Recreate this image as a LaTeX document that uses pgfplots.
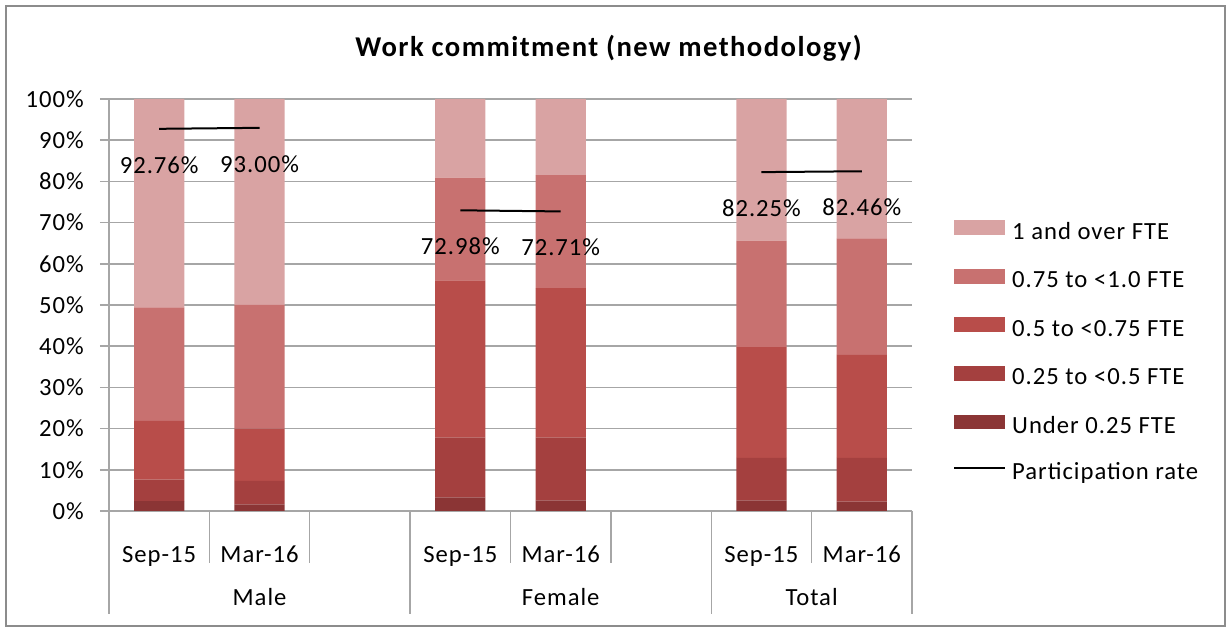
\documentclass[border=0pt]{standalone}
\usepackage{pgfplots}
\usepackage{pgfplotstable}
\pgfplotsset{compat=1.18}
\usepackage{fontspec}
\setmainfont{Carlito}[LetterSpace=4]
\definecolor{cA}{HTML}{8B3535}
\definecolor{cB}{HTML}{A4403F}
\definecolor{cC}{HTML}{B84D4A}
\definecolor{cD}{HTML}{C87170}
\definecolor{cE}{HTML}{D9A3A3}
\definecolor{gridc}{HTML}{A6A6A6}
\definecolor{framec}{HTML}{8C8C8C}

\pgfplotsset{
  barleg/.style={legend image code/.code={\fill[##1] (0pt,-1.6pt) rectangle (38.25pt,9.6pt);}},
  lineleg/.style={legend image code/.code={\draw[##1] (0pt,4pt) -- (38.25pt,4pt);}},
}

% segment values (percent) per bar; x = slot position
\pgfplotstableread{
x under quarter half tquarter full
0 2.4 5.2 14.3 27.5 50.6
1 1.6 5.7 12.7 30.0 50.0
3 3.3 14.6 38.1 24.9 19.1
4 2.6 15.3 36.2 27.4 18.5
6 2.6 10.3 26.9 25.8 34.4
7 2.3 10.6 25.0 28.3 33.8
}\worktable

\newcommand{\bodyfont}{\fontsize{18.5}{22}\selectfont}

\begin{document}
\begin{tikzpicture}
\useasboundingbox (0pt,0pt) rectangle (921pt,471pt);
\draw[framec, line width=1.5pt] (4.5pt,1.5pt) rectangle (918.75pt,466.5pt);
\node[anchor=base, font=\fontsize{21.5}{25}\selectfont\bfseries\addfontfeature{LetterSpace=5}] at (456.4pt,428.5pt) {Work commitment (new methodology)};

\begin{axis}[
  at={(81.75pt,87.75pt)}, anchor=south west,
  scale only axis, width=602.25pt, height=309pt,
  xmin=-0.5, xmax=7.5, ymin=0, ymax=100,
  ybar stacked, bar width=0.5,
  clip=false,
  axis x line*=bottom, axis y line*=left,
  axis line style={gridc, line width=1.1pt, -},
  ymajorgrids, grid style={gridc, line width=1.1pt},
  ytick={0,10,...,100},
  yticklabel={\pgfmathprintnumber{\tick}\%},
  yticklabel style={font=\bodyfont, /pgf/number format/assume math mode=true, inner sep=0pt, anchor=east, xshift=-12pt},
  ytick style={gridc, line width=1.1pt},
  tick align=outside, major tick length=6.75pt,
  xtick={0,1,3,4,6,7},
  xticklabels={Sep-15,Mar-16,Sep-15,Mar-16,Sep-15,Mar-16},
  xtick style={draw=none},
  xticklabel style={font=\bodyfont, inner sep=0pt, anchor=base, yshift=-31.7pt},
  reverse legend,
  legend cell align=left,
  legend style={at={(1.051,0.385)}, anchor=west, draw=none, fill=none,
    inner sep=0pt, row sep=18.8pt, column sep=4.5pt, font=\bodyfont,
    nodes={inner sep=0pt, text height=12.5pt, text depth=3.5pt}},
]
\addlegendimage{black, line width=1.5pt, lineleg}
\addlegendentry{Participation rate}
\addplot[fill=cA, draw=none, barleg] table[x=x, y=under] {\worktable};
\addlegendentry{Under 0.25 FTE}
\addplot[fill=cB, draw=none, barleg] table[x=x, y=quarter] {\worktable};
\addlegendentry{0.25 to <0.5 FTE}
\addplot[fill=cC, draw=none, barleg] table[x=x, y=half] {\worktable};
\addlegendentry{0.5 to <0.75 FTE}
\addplot[fill=cD, draw=none, barleg] table[x=x, y=tquarter] {\worktable};
\addlegendentry{0.75 to <1.0 FTE}
\addplot[fill=cE, draw=none, barleg] table[x=x, y=full] {\worktable};
\addlegendentry{1 and over FTE}

% category separators (multi-level axis)
\draw[gridc, line width=1.1pt] (axis cs:0.5,0) -- ++(0pt,-39pt);
\draw[gridc, line width=1.1pt] (axis cs:1.5,0) -- ++(0pt,-39pt);
\draw[gridc, line width=1.1pt] (axis cs:3.5,0) -- ++(0pt,-39pt);
\draw[gridc, line width=1.1pt] (axis cs:4.5,0) -- ++(0pt,-39pt);
\draw[gridc, line width=1.1pt] (axis cs:6.5,0) -- ++(0pt,-39pt);
\draw[gridc, line width=1.1pt] (axis cs:-0.5,0) -- ++(0pt,-77.25pt);
\draw[gridc, line width=1.1pt] (axis cs:2.5,0) -- ++(0pt,-77.25pt);
\draw[gridc, line width=1.1pt] (axis cs:5.5,0) -- ++(0pt,-77.25pt);
\draw[gridc, line width=1.1pt] (axis cs:7.5,0) -- ++(0pt,-77.25pt);
\node[font=\bodyfont, anchor=base, inner sep=0pt] at ([yshift=-71pt]axis cs:1,0) {Male};
\node[font=\bodyfont, anchor=base, inner sep=0pt] at ([yshift=-71pt]axis cs:4,0) {Female};
\node[font=\bodyfont, anchor=base, inner sep=0pt] at ([yshift=-71pt]axis cs:6.5,0) {Total};
\end{axis}

\begin{axis}[
  at={(81.75pt,87.75pt)}, anchor=south west,
  scale only axis, width=602.25pt, height=309pt,
  xmin=-0.5, xmax=7.5, ymin=0, ymax=100,
  hide axis, clip=false,
  nodes near coords, point meta=explicit symbolic,
  every node near coord/.append style={anchor=center, yshift=-27pt, font=\bodyfont, text=black, inner sep=0pt},
]
\addplot[black, line width=1.5pt, mark=none] coordinates {(0,92.76) [92.76\%] (1,93.00) [93.00\%]};
\addplot[black, line width=1.5pt, mark=none] coordinates {(3,72.98) [72.98\%] (4,72.71) [72.71\%]};
\addplot[black, line width=1.5pt, mark=none] coordinates {(6,82.25) [82.25\%] (7,82.46) [82.46\%]};
\end{axis}
\end{tikzpicture}
\end{document}
